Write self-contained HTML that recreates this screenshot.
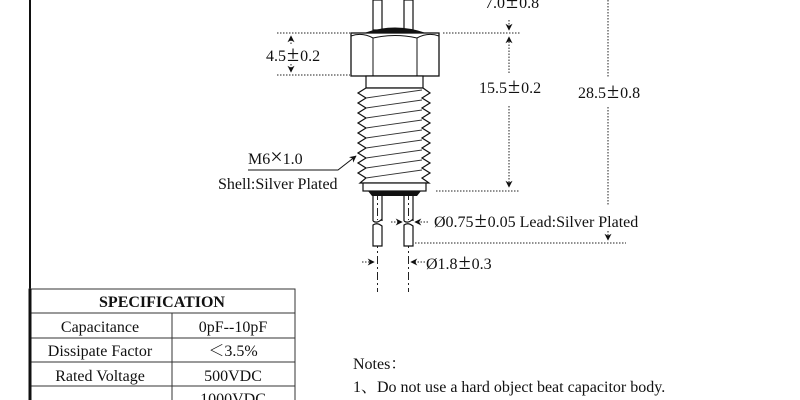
<!DOCTYPE html>
<html><head><meta charset="utf-8"><style>
html,body{margin:0;padding:0;background:#fff;width:800px;height:400px;overflow:hidden}
svg{display:block}
text{font-family:"Liberation Serif","Noto Serif CJK SC",serif;fill:#111}
.pm{font-size:22px}
</style></head><body>
<svg width="800" height="400" viewBox="0 0 800 400" xmlns="http://www.w3.org/2000/svg">
<defs>
<marker id="ah" viewBox="0 0 10 10" refX="9" refY="5" markerWidth="7" markerHeight="7" orient="auto-start-reverse"><path d="M0,0 L10,5 L0,10 L3,5 z" fill="#111"/></marker>
</defs>
<line x1="30" y1="0" x2="30" y2="400" stroke="#111" stroke-width="2"/>
<g stroke="#222" stroke-width="1" stroke-dasharray="8,3,2,3">
<line x1="377.5" y1="0" x2="377.5" y2="292"/>
<line x1="408.5" y1="0" x2="408.5" y2="292"/>
</g>
<g fill="#fff" stroke="#111" stroke-width="1.2">
<rect x="373" y="0" width="9" height="30"/>
<rect x="404" y="0" width="9" height="30"/>
</g>
<path d="M364,33 Q395,22 426,33 Z" fill="#111"/>
<rect x="351" y="33" width="88" height="43" fill="#fff" stroke="#111" stroke-width="1.3"/>
<line x1="373" y1="38" x2="373" y2="76" stroke="#111"/>
<line x1="417" y1="38" x2="417" y2="76" stroke="#111"/>
<path d="M351,36 Q362,32 373,38 Q395,33 417,38 Q428,32 439,36" fill="none" stroke="#111"/>
<rect x="366" y="76" width="57" height="12" fill="#fff" stroke="#111" stroke-width="1.2"/>
<path d="M366,88 L358,93 L366,98 L358,103 L366,108 L358,113 L366,118 L358,123 L366,128 L358,133 L366,138 L358,143 L366,148 L358,153 L366,158 L358,163 L366,168 L358,173 L366,178 L360,183 L429,183 L422,178 L430,173 L422,168 L430,163 L422,158 L430,153 L422,148 L430,143 L422,138 L430,133 L422,128 L430,123 L422,118 L430,113 L422,108 L430,103 L422,98 L430,93 L423,88 Z" fill="#fff" stroke="#111" stroke-width="1.2"/>
<g stroke="#333" stroke-width="0.9">
<line x1="366" y1="98" x2="422" y2="90"/>
<line x1="366" y1="108" x2="422" y2="100"/>
<line x1="366" y1="118" x2="422" y2="110"/>
<line x1="366" y1="128" x2="422" y2="120"/>
<line x1="366" y1="138" x2="422" y2="130"/>
<line x1="366" y1="148" x2="422" y2="140"/>
<line x1="366" y1="158" x2="422" y2="150"/>
<line x1="366" y1="168" x2="422" y2="160"/>
<line x1="366" y1="178" x2="422" y2="170"/>
</g>
<rect x="363" y="183" width="63" height="8" fill="#fff" stroke="#111" stroke-width="1.2"/>
<path d="M368,191 L421,191 L417,196 L372,196 Z" fill="#111"/>
<g fill="#fff" stroke="#111" stroke-width="1.2">
<path d="M373,196 L373,221 M382,196 L382,221 M373,221 Q377,224 382,219"/>
<path d="M404,196 L404,221 M413,196 L413,221 M404,221 Q408,224 413,219"/>
<path d="M373,225 Q377,222 382,226 L382,246 L373,246 Z"/>
<path d="M404,225 Q408,222 413,226 L413,246 L404,246 Z"/>
</g>
<g stroke="#222" stroke-width="1" stroke-dasharray="1.5,1.5" fill="none">
<line x1="277" y1="33" x2="350" y2="33"/>
<line x1="277" y1="75" x2="350" y2="75"/>
<line x1="443" y1="33" x2="520" y2="33"/>
<line x1="436" y1="191" x2="520" y2="191"/>
<line x1="415" y1="243" x2="626" y2="243"/>
<line x1="509" y1="20" x2="509" y2="30" marker-end="url(#ah)"/>
<line x1="509" y1="73" x2="509" y2="37" marker-end="url(#ah)"/>
<line x1="509" y1="106" x2="509" y2="187" marker-end="url(#ah)"/>
<line x1="608" y1="0" x2="608" y2="78"/>
<line x1="608" y1="107" x2="608" y2="206"/>
<line x1="608" y1="231" x2="608" y2="240" marker-end="url(#ah)"/>
<line x1="291" y1="44" x2="291" y2="36" marker-end="url(#ah)"/>
<line x1="291" y1="64" x2="291" y2="72" marker-end="url(#ah)"/>
<line x1="391" y1="222" x2="402" y2="222" marker-end="url(#ah)"/>
<line x1="428" y1="222" x2="415" y2="222" marker-end="url(#ah)"/>
<line x1="362" y1="262" x2="374" y2="262" marker-end="url(#ah)"/>
<line x1="425" y1="262" x2="411" y2="262" marker-end="url(#ah)"/>
</g>
<path d="M248,170 L338,170 L356,156" fill="none" stroke="#111" marker-end="url(#ah)"/>
<g font-size="16">
<text x="266" y="61">4.5<tspan class="pm" dx="1">±</tspan><tspan dx="1">0.2</tspan></text>
<text x="485" y="8">7.0<tspan class="pm" dx="1">±</tspan><tspan dx="1">0.8</tspan></text>
<text x="479" y="93">15.5<tspan class="pm" dx="1">±</tspan><tspan dx="1">0.2</tspan></text>
<text x="578" y="98">28.5<tspan class="pm" dx="1">±</tspan><tspan dx="1">0.8</tspan></text>
<text x="248" y="164">M6<tspan class="pm">×</tspan>1.0</text>
<text x="218" y="189">Shell:Silver Plated</text>
<text x="434" y="227">Ø0.75<tspan class="pm" dx="1">±</tspan><tspan dx="1">0.05 Lead:Silver Plated</tspan></text>
<text x="426" y="269">Ø1.8<tspan class="pm" dx="1">±</tspan><tspan dx="1">0.3</tspan></text>
<text x="353" y="369">Notes：</text>
<text x="353" y="392">1、Do not use a hard object beat capacitor body.</text>
</g>
<g stroke="#333" stroke-width="1" fill="none">
<rect x="29" y="289" width="266" height="120"/>
<line x1="29" y1="313" x2="295" y2="313"/>
<line x1="29" y1="338" x2="295" y2="338"/>
<line x1="29" y1="362" x2="295" y2="362"/>
<line x1="29" y1="386" x2="295" y2="386"/>
<line x1="172" y1="313" x2="172" y2="400"/>
</g>
<line x1="30" y1="289" x2="30" y2="400" stroke="#111" stroke-width="3"/>
<g font-size="16" text-anchor="middle">
<text x="162" y="307" font-weight="bold">SPECIFICATION</text>
<text x="100" y="332">Capacitance</text>
<text x="233" y="332">0pF--10pF</text>
<text x="100" y="356">Dissipate Factor</text>
<text x="233" y="356">＜3.5%</text>
<text x="100" y="381">Rated Voltage</text>
<text x="233" y="381">500VDC</text>
<text x="233" y="404">1000VDC</text>
</g>
</svg>
</body></html>
